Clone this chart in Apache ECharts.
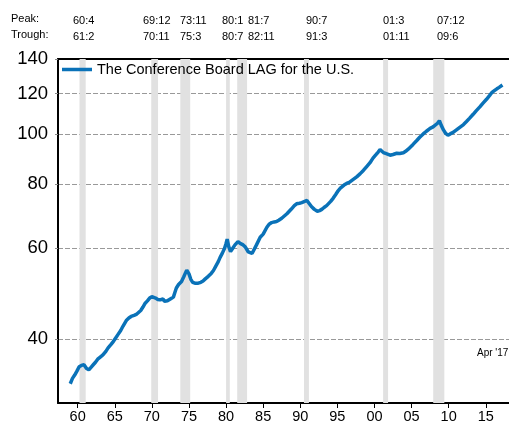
<!DOCTYPE html>
<html><head><meta charset="utf-8">
<script src="https://cdn.jsdelivr.net/npm/echarts@6/dist/echarts.min.js"></script>
<style>html,body{margin:0;padding:0;background:#fff}#c{width:509px;height:424px}</style>
</head><body><div id="c"></div>
<script>
const seriesName = 'The Conference Board LAG for the U.S.';
const dates = [1959.0,1959.3,1959.6,1959.9,1960.2,1960.5,1960.85,1961.2,1961.5,1961.8,1962.1,1962.4,1962.7,1963.0,1963.4,1963.8,1964.1,1964.5,1964.8,1965.1,1965.4,1965.8,1966.1,1966.55,1966.9,1967.2,1967.6,1967.9,1968.2,1968.5,1968.8,1969.1,1969.4,1969.7,1970.0,1970.2,1970.5,1970.8,1971.1,1971.5,1971.7,1971.9,1972.1,1972.35,1972.6,1972.9,1973.1,1973.3,1973.6,1974.0,1974.3,1974.5,1974.7,1974.85,1975.0,1975.25,1975.5,1975.8,1976.25,1976.6,1976.9,1977.2,1977.6,1978.0,1978.3,1978.6,1978.95,1979.2,1979.5,1979.8,1980.0,1980.15,1980.35,1980.6,1980.9,1981.2,1981.6,1981.9,1982.3,1982.6,1982.8,1983.0,1983.2,1983.5,1983.7,1984.1,1984.6,1985.0,1985.5,1985.8,1986.15,1986.5,1986.8,1987.1,1987.5,1988.2,1988.8,1989.2,1989.5,1989.9,1990.2,1990.6,1990.9,1991.2,1991.5,1991.9,1992.3,1992.6,1992.9,1993.2,1993.55,1993.8,1994.1,1994.45,1994.8,1995.1,1995.4,1995.6,1995.9,1996.25,1996.6,1997.1,1997.6,1998.05,1998.5,1998.95,1999.4,1999.8,2000.2,2000.5,2000.75,2000.95,2001.2,2001.6,2002.1,2002.5,2003.0,2003.4,2003.9,2004.2,2004.55,2004.8,2005.2,2005.7,2006.1,2006.6,2007.0,2007.5,2007.9,2008.15,2008.5,2008.75,2009.0,2009.3,2009.6,2009.9,2010.2,2010.6,2011.0,2011.5,2012.0,2012.4,2012.8,2013.3,2013.7,2014.2,2014.6,2015.1,2015.5,2015.8,2016.2,2016.5,2016.8,2017.05,2017.25];
const lagValues = [32.7,33.5,34.0,34.6,35.3,35.5,35.6,35.0,34.8,35.2,35.6,36.0,36.5,36.8,37.2,37.8,38.4,39.0,39.5,40.1,40.7,41.5,42.3,43.4,43.9,44.2,44.4,44.6,45.0,45.4,46.1,46.9,47.4,48.0,48.3,48.4,48.0,47.7,47.6,47.8,47.3,47.0,47.4,47.7,47.9,48.2,49.2,50.2,51.0,51.7,52.8,53.6,54.4,54.6,53.5,52.2,51.5,51.3,51.3,51.5,51.8,52.3,52.9,53.6,54.3,55.3,56.5,57.6,58.7,60.0,61.3,62.5,60.5,59.1,60.0,60.9,61.8,61.3,60.9,60.3,60.0,59.0,58.5,58.6,59.0,60.9,63.0,63.9,65.9,66.8,67.3,67.5,67.6,68.0,68.6,70.0,71.5,72.6,73.2,73.4,73.6,74.0,74.3,73.3,72.3,71.4,70.8,71.0,71.4,72.0,72.6,73.2,74.0,75.1,76.4,77.6,78.5,79.0,79.6,80.2,80.6,81.6,82.6,83.7,85.0,86.5,88.0,89.8,91.2,92.3,93.3,92.5,92.1,91.6,91.0,91.3,91.8,91.7,92.0,92.6,93.5,94.3,95.5,97.2,98.6,100.2,101.3,102.6,103.3,104.2,105.0,106.2,104.0,101.9,100.3,99.5,100.1,100.8,101.8,103.1,104.4,105.8,107.3,109.3,111.0,113.0,114.8,116.9,118.8,120.4,121.6,122.5,123.3,124.1,124.6];
const xTickYears = [1960,1965,1970,1975,1980,1985,1990,1995,2000,2005,2010,2015];
const yTickValues = [40,60,80,100,120,140];
const peakDates = ['60:4','69:12','73:11','80:1','81:7','90:7','01:3','07:12'];
const troughDates = ['61:2','70:11','75:3','80:7','82:11','91:3','01:11','09:6'];
const lastLabel = "Apr '17";

function toYear(s){ const p = s.split(':').map(Number); return (p[0] < 50 ? 2000 : 1900) + p[0] + (p[1]-1)/12; }

const FONT = '"Liberation Sans", Arial, sans-serif';
const labelX = [73,143,180,222,248,306,383,437];
const chart = echarts.init(document.getElementById('c'), null, {renderer:'canvas'});

const graphics = [
  {type:'text', left:11, top:13, style:{text:'Peak:', font:'11px ' + FONT, fill:'#000'}},
  {type:'text', left:11, top:29, style:{text:'Trough:', font:'11px ' + FONT, fill:'#000'}},
  {type:'text', left:477, top:348, style:{text:lastLabel, font:'10px ' + FONT, fill:'#000'}}
];
peakDates.forEach((d,i)=>{
  graphics.push({type:'text', left:labelX[i], top:15, style:{text:d, font:'11px ' + FONT, fill:'#000'}});
  graphics.push({type:'text', left:labelX[i], top:31, style:{text:troughDates[i], font:'11px ' + FONT, fill:'#000'}});
});

const bands = peakDates.map((p,i)=>[{xAxis: toYear(p)},{xAxis: toYear(troughDates[i])}]);

chart.setOption({
  animation:false,
  backgroundColor:'#fff',
  grid:{left:58, right:0, top:59, bottom:19, containLabel:false},
  legend:{
    data:[seriesName], left:62, top:62, icon:'rect', itemWidth:30, itemHeight:3.5,
    textStyle:{fontFamily:FONT, fontSize:14.5, color:'#000'}, padding:0
  },
  xAxis:[{
    type:'value', min:1957.35, max:2018.13,
    axisLine:{show:true, lineStyle:{color:'#000', width:2}},
    axisTick:{show:true, length:5, lineStyle:{color:'#000', width:1}, customValues:xTickYears},
    axisLabel:{customValues:xTickYears, margin:6, fontFamily:FONT, fontSize:14.5, color:'#000',
      formatter:v=>String(Math.round(v)%100).padStart(2,'0')},
    splitLine:{show:false}
  },{
    type:'value', position:'top', min:1957.35, max:2018.13,
    axisLine:{show:true, onZero:false, lineStyle:{color:'#000', width:2}},
    axisTick:{show:false}, axisLabel:{show:false}, splitLine:{show:false}
  }],
  yAxis:{
    type:'log', logBase:10, min:30, max:140,
    axisLine:{show:true, lineStyle:{color:'#000', width:2}},
    axisTick:{show:true, length:3, lineStyle:{color:'#888'}, customValues:yTickValues},
    axisLabel:{customValues:yTickValues, margin:10, fontFamily:FONT, fontSize:18.5, color:'#000'},
    splitLine:{show:true, lineStyle:{color:'#999', width:1, type:[5,2]}},
    minorTick:{show:false}
  },
  graphic:graphics,
  series:[{
    name:'recessions', type:'line', data:[], z:-1, silent:true,
    markArea:{silent:true, itemStyle:{color:'#e1e1e1'}, data:bands}
  },{
    name:seriesName, type:'line', data:dates.map((d,i)=>[d, lagValues[i]]),
    showSymbol:false, symbol:'none', smooth:false, z:3,
    lineStyle:{color:'#0a72b8', width:3.5}, itemStyle:{color:'#0a72b8'}
  }]
});
</script></body></html>
